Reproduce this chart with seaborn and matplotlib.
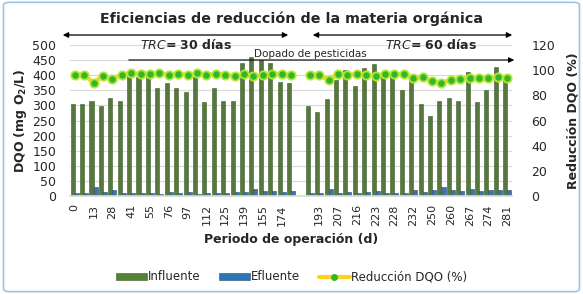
import numpy as np
import pandas as pd
import matplotlib
matplotlib.use("Agg")
import matplotlib.pyplot as plt
import seaborn as sns
from matplotlib.patches import Patch, FancyBboxPatch
from matplotlib.lines import Line2D

# dias rotulados (cada dos categorias); hueco entre las dos etapas
etiquetas = ["0", "13", "28", "41", "55", "76", "97", "112", "125", "139", "155", "174", "",
             "193", "207", "216", "223", "228", "232", "250", "260", "267", "274", "281"]

# TRC = 30 dias (24 muestras)
influente_30 = [303, 303, 316, 299, 326, 313, 397, 395, 395, 358, 373, 357,
                344, 393, 312, 356, 314, 315, 441, 460, 450, 439, 378, 373]
efluente_30 = [10, 10, 30, 12, 21, 10, 9, 9, 9, 8, 12, 10,
               13, 8, 10, 10, 11, 14, 14, 22, 18, 15, 12, 15]
reduccion_30 = [96.5, 96.5, 89.9, 95.7, 93.0, 96.5, 97.5, 97.2, 97.2, 97.5, 96.5, 97.2,
                96.2, 97.5, 96.5, 96.8, 96.2, 95.1, 96.8, 95.1, 96.2, 96.8, 96.8, 95.9]

# TRC = 60 dias (22 muestras)
influente_60 = [297, 278, 322, 384, 417, 365, 425, 436, 411, 406, 351,
                390, 306, 265, 314, 325, 314, 409, 312, 351, 426, 384]
efluente_60 = [10, 9, 24, 9, 13, 10, 12, 15, 10, 9, 10,
               19, 14, 19, 29, 21, 18, 22, 17, 19, 21, 19]
reduccion_60 = [96.5, 96.5, 92.0, 97.2, 96.2, 96.8, 96.5, 95.3, 97.2, 96.8, 96.8,
                93.8, 94.3, 91.2, 89.9, 92.5, 93.3, 93.8, 93.8, 93.8, 94.8, 94.0]

verde = "#548235"
azul = "#2E75B6"
amarillo = "#FFD21F"
punto = "#2DB82D"

n30, n60 = len(influente_30), len(influente_60)
pos30 = list(range(n30))
pos60 = list(range(n30 + 1, n30 + 1 + n60))
n_cat = n30 + 1 + n60

barras = pd.DataFrame({
    "pos": pos30 + pos60 + pos30 + pos60,
    "serie": ["Influente"] * (n30 + n60) + ["Efluente"] * (n30 + n60),
    "valor": influente_30 + influente_60 + efluente_30 + efluente_60,
})
linea = pd.DataFrame({
    "pos": pos30 + pos60,
    "red": reduccion_30 + reduccion_60,
    "tramo": [0] * n30 + [1] * n60,
})

sns.set_theme(style="white")
plt.rcParams["font.family"] = ["DejaVu Sans"]

fig = plt.figure(figsize=(5.83, 2.94), dpi=100)
ax = fig.add_axes([70 / 583, 1 - 196 / 294, (512 - 70) / 583, (196 - 45) / 294])

sns.barplot(data=barras, x="pos", y="valor", hue="serie", order=range(n_cat),
            hue_order=["Influente", "Efluente"], palette=[verde, azul],
            width=0.86, edgecolor="#3B5E25", linewidth=0.4, legend=False, ax=ax)
for b in ax.patches[n_cat:]:
    b.set_edgecolor("#1F4E79")

ax.set_ylim(0, 500)
ax.set_yticks(range(0, 501, 50))
ax.set_xlim(-0.5, n_cat - 0.5)
ax.yaxis.grid(True, color="#D9D9D9", linewidth=0.8)
ax.set_axisbelow(True)
for s in ax.spines.values():
    s.set_visible(False)
ax.spines["bottom"].set_visible(True)
ax.spines["bottom"].set_color("#D9D9D9")

ax.set_xticks(range(0, n_cat, 2))
ax.set_xticklabels(etiquetas, rotation=90, fontsize=8)
ax.tick_params(axis="x", length=0, pad=6)
ax.tick_params(axis="y", length=0, pad=10, labelsize=9)
ax.set_xlabel("Periodo de operación (d)", fontsize=9, fontweight="bold", labelpad=5)
ax.set_ylabel("DQO (mg O$_\\mathbf{2}$/L)", fontsize=9, fontweight="bold", labelpad=2)

ax2 = ax.twinx()
sns.lineplot(data=linea, x="pos", y="red", units="tramo", estimator=None,
             color=amarillo, linewidth=3, marker="o", markersize=6,
             markerfacecolor=punto, markeredgecolor="#B8E62E", markeredgewidth=1.3,
             ax=ax2)
ax2.set_ylim(0, 120)
ax2.set_yticks(range(0, 121, 20))
for s in ax2.spines.values():
    s.set_visible(False)
ax2.tick_params(axis="y", length=0, pad=14, labelsize=9)
ax2.set_ylabel("Reducción DQO (%)", fontsize=9, fontweight="bold", labelpad=8)
ax2.set_xlim(-0.5, n_cat - 0.5)

fig.text(0.5, 1 - 19 / 294, "Eficiencias de reducción de la materia orgánica",
         ha="center", va="center", fontsize=10.3, fontweight="bold")

flecha = dict(arrowstyle="<|-|>", color="black", lw=0.9, mutation_scale=8)
ax.annotate("", xy=(60 / 583, 1 - 35 / 294), xytext=(291 / 583, 1 - 35 / 294),
            xycoords="figure fraction", arrowprops=flecha)
ax.annotate("", xy=(310 / 583, 1 - 35 / 294), xytext=(515 / 583, 1 - 35 / 294),
            xycoords="figure fraction", arrowprops=flecha)
ax.annotate("", xy=(517 / 583, 1 - 60 / 294), xytext=(126 / 583, 1 - 60 / 294),
            xycoords="figure fraction",
            arrowprops=dict(arrowstyle="-|>", color="black", lw=0.8, mutation_scale=8))

fig.text(186 / 583, 1 - 45 / 294, r"$\bf\it{TRC}$" + "= 30 días", ha="center", va="center",
         fontsize=9, fontweight="bold")
fig.text(431 / 583, 1 - 45 / 294, r"$\bf\it{TRC}$" + "= 60 días", ha="center", va="center",
         fontsize=9, fontweight="bold")
fig.text(310 / 583, 1 - 54 / 294, "Dopado de pesticidas", ha="center", va="center", fontsize=7.5)

handles = [Patch(facecolor=verde, edgecolor="#3B5E25", linewidth=0.4),
           Patch(facecolor=azul, edgecolor="#1F4E79", linewidth=0.4),
           Line2D([], [], color=amarillo, linewidth=3, marker="o", markersize=4,
                  markerfacecolor=punto, markeredgecolor=punto)]
fig.legend(handles, ["Influente", "Efluente", "Reducción DQO (%)"], loc="center",
           bbox_to_anchor=(0.5, 1 - 277 / 294), ncol=3, frameon=False, fontsize=8.5,
           handlelength=2.6, handleheight=0.55, handletextpad=0.1, columnspacing=1.6)

fig.patches.append(FancyBboxPatch((0.006, 0.008), 0.988, 0.984,
                                  boxstyle="round,pad=0,rounding_size=0.01",
                                  transform=fig.transFigure, facecolor="none",
                                  edgecolor="#9DC3E6", linewidth=1.2))

fig.savefig("out.png", dpi=100)
